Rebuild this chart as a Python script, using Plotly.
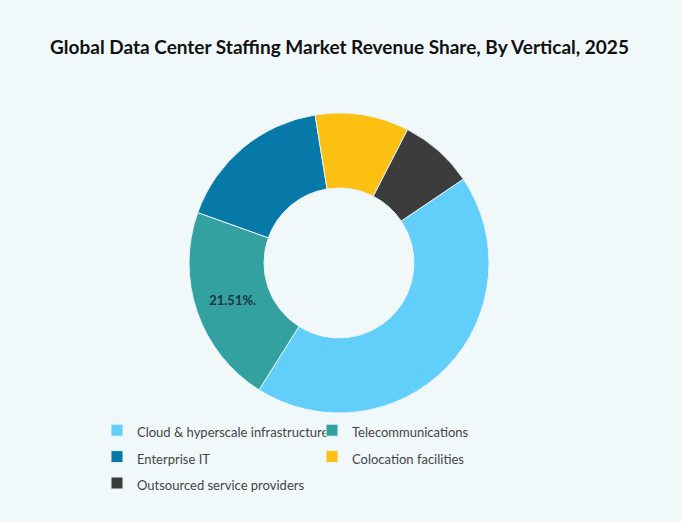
import plotly.graph_objects as go

categories = [
    "Cloud & hyperscale infrastructure",
    "Telecommunications",
    "Enterprise IT",
    "Colocation facilities",
    "Outsourced service providers",
]
shares = [43.4, 21.51, 17.0, 10.1, 8.0]
slice_labels = ["", "21.51%.", "", "", ""]
colors = ["#62CFFA", "#33A19F", "#0679A9", "#FCC012", "#3C3C3C"]

title_text = "Global Data Center Staffing Market Revenue Share, By Vertical, 2025"

W, H = 682, 522
ML, MR = 90, 130          # plot-area margins (limit legend width to two columns)
PW = W - ML - MR
cx, cy, R = 339, 263, 150

# legend rows are spaced by the legend font size; the visible text is drawn smaller
legend_labels = ["<span style='font-size:13px'>" + c + "</span>" for c in categories]

fig = go.Figure(
    go.Pie(
        labels=legend_labels,
        values=shares,
        text=slice_labels,
        textinfo="text",
        textposition="inside",
        insidetextorientation="horizontal",
        textfont=dict(family="Lato", size=13, color="#1B3447", weight="bold"),
        hole=0.5,
        sort=False,
        direction="clockwise",
        rotation=56,
        marker=dict(colors=colors, line=dict(color="#E6F3F6", width=1)),
        domain=dict(
            x=[(cx - R - ML) / PW, (cx + R - ML) / PW],
            y=[1 - (cy + R) / H, 1 - (cy - R) / H],
        ),
        hoverinfo="percent",
    )
)

fig.update_layout(
    width=W,
    height=H,
    margin=dict(l=ML, r=MR, t=0, b=0),
    paper_bgcolor="#F1F8FA",
    plot_bgcolor="#F1F8FA",
    title=dict(
        text="<b>" + title_text + "</b>",
        x=339.5 / W,
        xref="container",
        xanchor="center",
        y=1 - 47 / H,
        yanchor="middle",
        font=dict(family="Lato", size=19, color="#111111"),
    ),
    showlegend=True,
    legend=dict(
        orientation="h",
        x=(97 - ML) / PW,
        xanchor="left",
        y=1 - 412 / H,
        yanchor="top",
        entrywidth=170,
        font=dict(family="Lato", size=18, color="#444444"),
        bgcolor="rgba(0,0,0,0)",
        itemwidth=30,
    ),
)

fig.write_html("out.html")
